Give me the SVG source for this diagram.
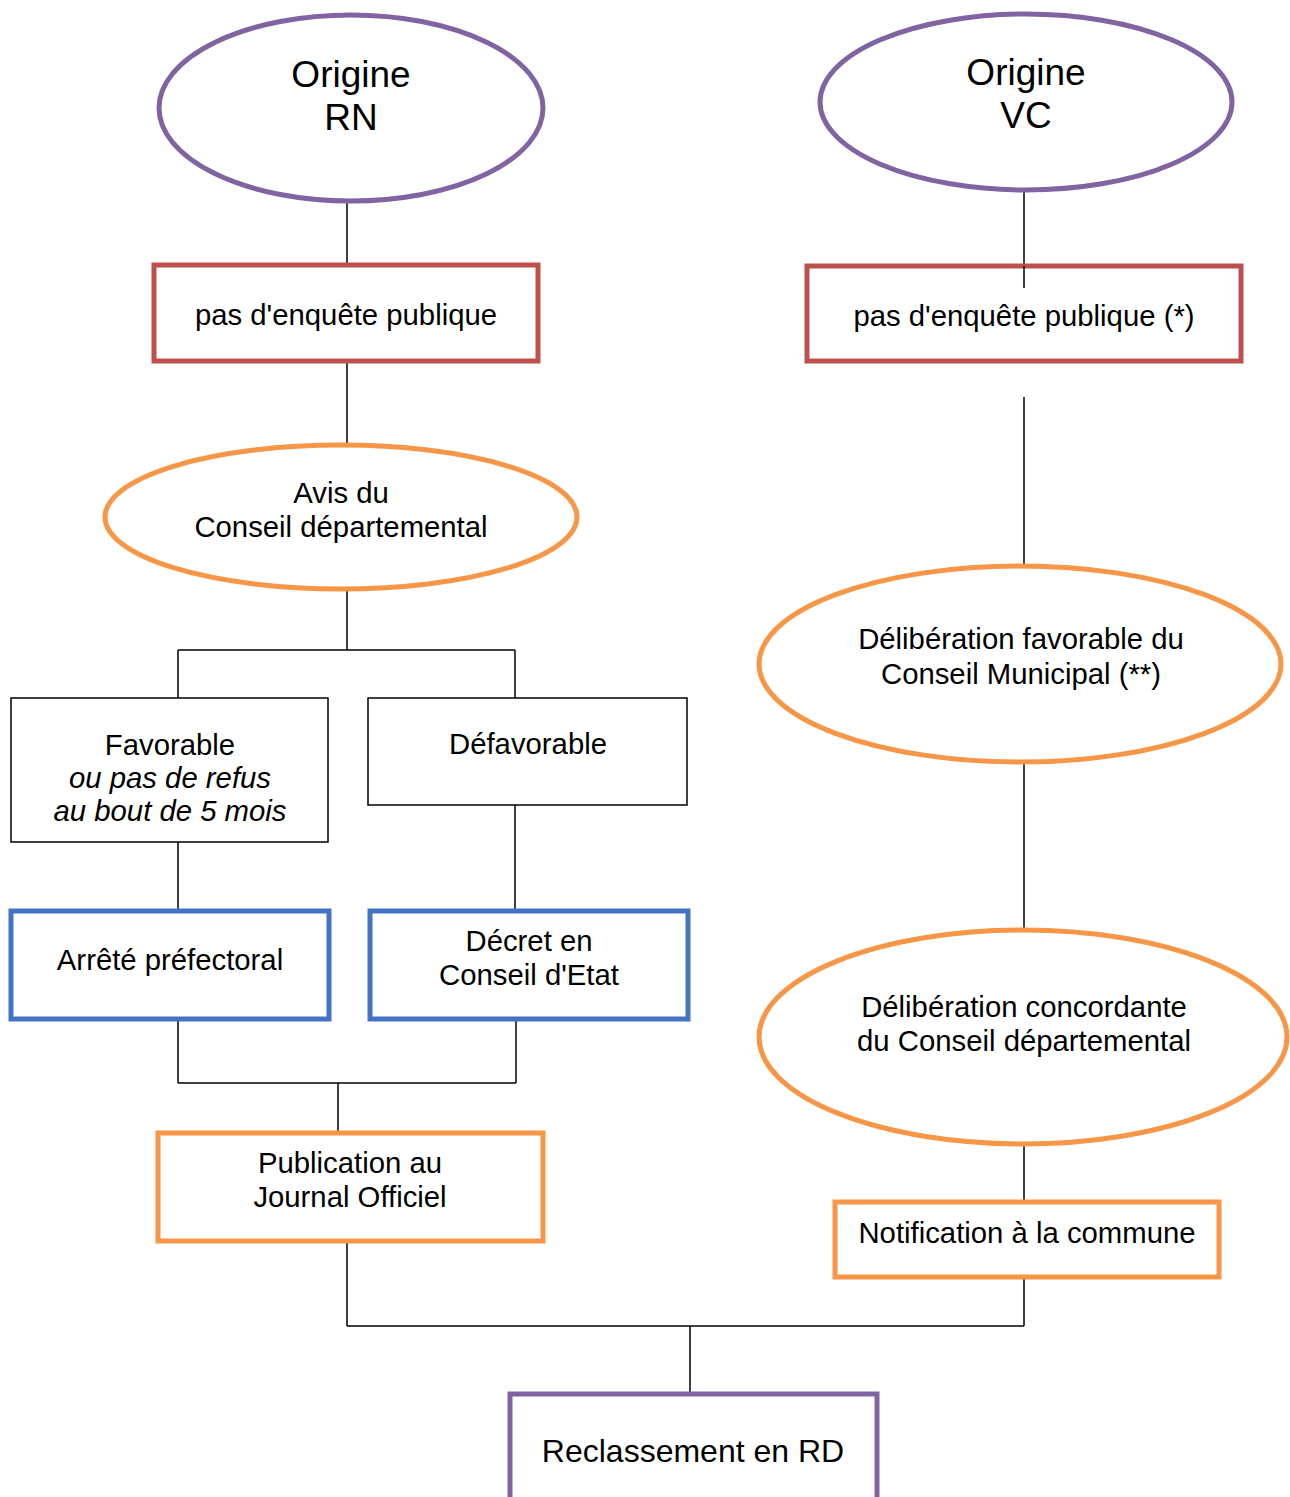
<svg xmlns="http://www.w3.org/2000/svg" width="1290" height="1497" viewBox="0 0 1290 1497">
<style>
text{font-family:"Liberation Sans",Arial,sans-serif;font-size:29.3px;fill:#000;text-anchor:middle}
.big{font-size:37px}
.rd{font-size:32px}
.it{font-style:italic}
.purple{fill:#fff;stroke:#8064A2;stroke-width:5}
.red{fill:#fff;stroke:#C0504D;stroke-width:5}
.orange{fill:#fff;stroke:#F79646;stroke-width:5}
.blue{fill:#fff;stroke:#4472C4;stroke-width:5}
.plain{fill:#fff;stroke:#000;stroke-width:1.5}
.conn line{stroke:#000;stroke-width:1.5}
</style>
<rect width="1290" height="1497" fill="#fff"/>
<g class="conn" id="connectors">
<line x1="347" y1="201" x2="347" y2="265"/>
<line x1="347" y1="361" x2="347" y2="445"/>
<line x1="1024" y1="191" x2="1024" y2="288"/>
<line x1="1024" y1="397" x2="1024" y2="566"/>
<line x1="347" y1="590" x2="347" y2="650"/>
<line x1="178" y1="650" x2="515" y2="650"/>
<line x1="178" y1="650" x2="178" y2="698"/>
<line x1="515" y1="650" x2="515" y2="698"/>
<line x1="178" y1="842" x2="178" y2="911"/>
<line x1="515" y1="805" x2="515" y2="911"/>
<line x1="178" y1="1019" x2="178" y2="1083"/>
<line x1="516" y1="1019" x2="516" y2="1083"/>
<line x1="178" y1="1083" x2="516" y2="1083"/>
<line x1="338" y1="1083" x2="338" y2="1133"/>
<line x1="1024" y1="762" x2="1024" y2="930"/>
<line x1="1024" y1="1144" x2="1024" y2="1202"/>
<line x1="347" y1="1241" x2="347" y2="1326"/>
<line x1="1024" y1="1277" x2="1024" y2="1326"/>
<line x1="347" y1="1326" x2="1024" y2="1326"/>
<line x1="690" y1="1326" x2="690" y2="1394"/>
</g>
<g id="origine-rn">
<ellipse class="purple" cx="351" cy="108" rx="192" ry="93"/>
<text class="big" x="351" y="87">Origine</text>
<text class="big" x="351" y="130">RN</text>
</g>
<g id="origine-vc">
<ellipse class="purple" cx="1026" cy="102" rx="206" ry="88"/>
<text class="big" x="1026" y="85">Origine</text>
<text class="big" x="1026" y="128">VC</text>
</g>
<g id="enquete-rn">
<rect class="red" x="154" y="265" width="384" height="96"/>
<text x="346" y="325">pas d'enquête publique</text>
</g>
<g id="enquete-vc">
<rect class="red" x="807" y="266" width="434" height="95"/>
<line x1="1024" y1="266" x2="1024" y2="288" stroke="#000" stroke-width="1.5"/>
<text x="1024" y="326">pas d'enquête publique (*)</text>
</g>
<g id="avis">
<ellipse class="orange" cx="341" cy="517" rx="236" ry="72"/>
<text x="341" y="503">Avis du</text>
<text x="341" y="537">Conseil départemental</text>
</g>
<g id="favorable">
<rect class="plain" x="11" y="698" width="317" height="144"/>
<text x="170" y="755">Favorable</text>
<text class="it" x="170" y="788">ou pas de refus</text>
<text class="it" x="170" y="821">au bout de 5 mois</text>
</g>
<g id="defavorable">
<rect class="plain" x="368" y="698" width="319" height="107"/>
<text x="528" y="754">Défavorable</text>
</g>
<g id="arrete">
<rect class="blue" x="11" y="911" width="318" height="108"/>
<text x="170" y="970">Arrêté préfectoral</text>
</g>
<g id="decret">
<rect class="blue" x="370" y="911" width="318" height="108"/>
<text x="529" y="951">Décret en</text>
<text x="529" y="985">Conseil d'Etat</text>
</g>
<g id="publication">
<rect class="orange" x="158" y="1133" width="385" height="108"/>
<text x="350" y="1173">Publication au</text>
<text x="350" y="1207">Journal Officiel</text>
</g>
<g id="deliberation-cm">
<ellipse class="orange" cx="1020" cy="664" rx="261" ry="98"/>
<text x="1021" y="649">Délibération favorable du</text>
<text x="1021" y="684">Conseil Municipal (**)</text>
</g>
<g id="deliberation-cd">
<ellipse class="orange" cx="1023" cy="1037" rx="264" ry="107"/>
<text x="1024" y="1017">Délibération concordante</text>
<text x="1024" y="1051">du Conseil départemental</text>
</g>
<g id="notification">
<rect class="orange" x="835" y="1202" width="384" height="75"/>
<text x="1027" y="1243">Notification à la commune</text>
</g>
<g id="reclassement">
<rect class="purple" x="510" y="1394" width="367" height="120"/>
<text class="rd" x="693" y="1462">Reclassement en RD</text>
</g>
</svg>
